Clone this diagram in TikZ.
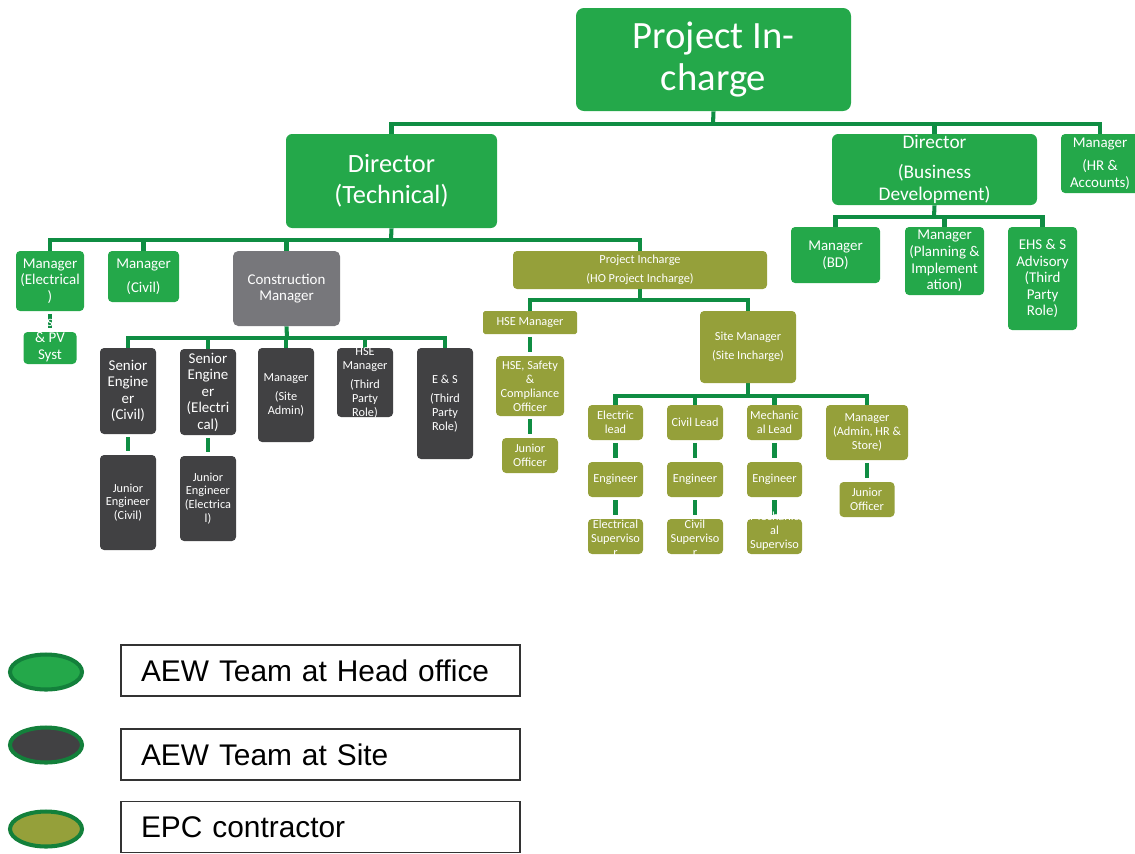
\documentclass[tikz,border=0pt]{standalone}
\usepackage{fontspec}
\setmainfont{Carlito}
\newfontfamily\arialfont{Liberation Sans}
\usetikzlibrary{shapes.geometric,backgrounds}

\definecolor{hogreen}{HTML}{24A84A}
\definecolor{sitegray}{HTML}{414143}
\definecolor{cmgray}{HTML}{77777B}
\definecolor{epcolive}{HTML}{95A03A}
\definecolor{wiregreen}{HTML}{0F8D43}
\definecolor{swatchedge}{HTML}{13803B}

\newcommand\szTop{\fontsize{22}{24.4}\selectfont}
\newcommand\szDir{\fontsize{15}{17.6}\selectfont}
\newcommand\szBD{\fontsize{11}{13}\selectfont}
\newcommand\szSmall{\fontsize{8.5}{9.4}\selectfont}
\newcommand\szTiny{\fontsize{7}{7.9}\selectfont}
\newcommand\szKey{\arialfont\fontsize{17}{20}\selectfont}

\tikzset{
  sz/.style 2 args={minimum width=#1*0.02cm, minimum height=#2*0.02cm},
  orgbox/.style={inner sep=0pt, align=center, text=white, rounded corners=2.3pt},
  orgtext/.style={inner sep=0pt, align=center, text=white},
  ho/.style={orgbox, fill=hogreen},
  site/.style={orgbox, fill=sitegray},
  epc/.style={orgbox, fill=epcolive},
  wire/.style={draw=wiregreen, line width=2.3pt},
  drop/.style={wire, shorten <=1.5pt, shorten >=2pt},
  swatch/.style={ellipse, draw=swatchedge, line width=2.3pt, inner sep=0pt, sz={72}{35}},
  keybox/.style={draw=black!80, line width=0.85pt, sz={399}{51}, text width=7.18cm,
    inner xsep=0.4cm, inner ysep=0pt, align=left, font=\szKey}
}

\begin{document}
\begin{tikzpicture}[x=0.02cm, y=-0.02cm]
\useasboundingbox (0,0) rectangle (1135,853);

% head office
\node[ho, sz={275}{103}, rounded corners=4.5pt, font=\szTop] (pic) at (713.5,59.5) {Project In-\\charge};
\node[ho, sz={211}{94}, rounded corners=3.5pt, font=\szDir] (dtech) at (391.5,181) {Director\\(Technical)};
\node[ho, sz={205}{71}, rounded corners=3.5pt, font=\szBD] (dbd) at (934.5,169.5) {Director\\[4pt](Business\\Development)};
\node[ho, sz={78}{59}, font=\szSmall] (mhr) at (1100,163.5) {Manager\\[4pt](HR \&\\Accounts)};

\node[ho, sz={68}{60}, font=\szSmall] (melec) at (50,281) {Manager\\(Electrical\\)};
\node[ho, sz={71}{51}, font=\szSmall] (mcivil) at (143.5,276.5) {Manager\\[4.5pt](Civil)};
\node[orgbox, fill=cmgray, sz={107}{75}, rounded corners=3pt, font=\szSmall] (cman) at (286.5,288.5) {Construction\\Manager};
\node[ho, sz={53}{32}, label={[orgtext, font=\szSmall, yshift=4.5pt]center:{s\\\& PV\\Syst}}] (pvs) at (50,348) {};

\node[ho, sz={89}{56}, font=\szSmall] (mbd) at (835.5,255) {Manager\\(BD)};
\node[ho, sz={79}{68}, font=\szSmall] (mplan) at (944.5,261) {Manager\\(Planning \&\\Implement\\ation)};
\node[ho, sz={69}{103}, font=\szSmall] (ehs) at (1042.5,278.5) {EHS \& S\\Advisory\\(Third\\Party\\Role)};

% site team
\node[site, sz={56}{86}, font=\szSmall] (secivil) at (128,391) {Senior\\Engine\\er\\(Civil)};
\node[site, sz={56}{86}, font=\szSmall] (seelec) at (208,392) {Senior\\Engine\\er\\(Electri\\cal)};
\node[site, sz={56}{94}, font=\szTiny] (msite) at (286,395) {Manager\\[3pt](Site\\Admin)};
\node[site, sz={56}{69}, label={[orgtext, font=\szTiny]center:{HSE\\Manager\\[3pt](Third\\Party\\Role)}}] (hsetp) at (365,382.5) {};
\node[site, sz={56}{111}, font=\szTiny] (es) at (445,403.5) {E \& S\\[3pt](Third\\Party\\Role)};
\node[site, sz={56}{95}, font=\szTiny] (jecivil) at (128,502.5) {Junior\\Engineer\\(Civil)};
\node[site, sz={56}{85}, font=\szTiny] (jeelec) at (208,498.5) {Junior\\Engineer\\(Electrica\\l)};

% epc contractor
\node[epc, sz={254}{38}, font=\szTiny] (pho) at (640,270) {Project Incharge\\[3pt](HO Project Incharge)};
\node[epc, sz={94}{23}, rounded corners=1pt, font=\szTiny] (hsem) at (530,322.5) {HSE Manager};
\node[epc, sz={96}{72}, font=\szTiny] (sitem) at (748,347) {Site Manager\\[3pt](Site Incharge)};
\node[epc, sz={68}{60}, font=\szTiny] (hsso) at (530,386) {HSE, Safety\\\&\\Compliance\\Officer};
\node[epc, sz={56}{35}, font=\szTiny] (jo1) at (530,455.5) {Junior\\Officer};
\node[epc, sz={55}{35}, font=\szTiny] (elead) at (615.5,422.5) {Electric\\lead};
\node[epc, sz={56}{35}, font=\szTiny] (clead) at (695,422.5) {Civil Lead};
\node[epc, sz={55}{35}, font=\szTiny] (mlead) at (774.5,422.5) {Mechanic\\al Lead};
\node[epc, sz={82}{55}, font=\szTiny] (madmin) at (867,432.5) {Manager\\(Admin, HR \&\\Store)};
\node[epc, sz={55}{35}, font=\szTiny] (eeng) at (615.5,479.5) {Engineer};
\node[epc, sz={56}{35}, font=\szTiny] (ceng) at (695,479.5) {Engineer};
\node[epc, sz={55}{35}, font=\szTiny] (meng) at (774.5,479.5) {Engineer};
\node[epc, sz={55}{35}, label={[orgtext, font=\szTiny, yshift=-0.8pt]center:{Electrical\\Superviso\\r}}] (esup) at (615.5,536.5) {};
\node[epc, sz={56}{35}, label={[orgtext, font=\szTiny, yshift=-0.8pt]center:{Civil\\Superviso\\r}}] (csup) at (695,536.5) {};
\node[epc, sz={55}{35}, label={[orgtext, font=\szTiny, yshift=-0.5pt]center:{Mechanic\\al\\Superviso\\r}}] (msup) at (774.5,536.5) {};
\node[epc, sz={55}{35}, font=\szTiny] (jo2) at (867,499.5) {Junior\\Officer};

% connectors
\begin{scope}[on background layer]
\coordinate (b0) at (713,124);
\draw[wire] (pic.south) -- (b0);
\draw[wire] (dtech.north) |- (b0) -| (mhr.north);
\draw[wire] (dbd.north) -- (dbd.north |- b0);

\coordinate (b1) at (391,240);
\draw[wire] (dtech.south) -- (b1);
\draw[wire] (melec.north) |- (b1) -| (pho.north);
\foreach \n in {mcivil,cman}
  \draw[wire] (\n.north) -- (\n.north |- b1);

\coordinate (b2) at (934,217);
\draw[wire] (dbd.south) -- (b2);
\draw[wire] (mbd.north) |- (b2) -| (ehs.north);
\draw[wire] (mplan.north) -- (mplan.north |- b2);

\coordinate (b3) at (287,338);
\draw[wire] (cman.south) -- (b3);
\draw[wire] (secivil.north) |- (b3) -| (es.north);
\foreach \n in {seelec,msite,hsetp}
  \draw[wire] (\n.north) -- (\n.north |- b3);

\coordinate (b4) at (640,300);
\draw[wire] (pho.south) -- (b4);
\draw[wire] (hsem.north) |- (b4) -| (sitem.north);

\coordinate (b5) at (748,396);
\draw[wire] (sitem.south) -- (b5);
\draw[wire] (elead.north) |- (b5) -| (madmin.north);
\foreach \n in {clead,mlead}
  \draw[wire] (\n.north) -- (\n.north |- b5);

\foreach \a/\b in {melec/pvs,secivil/jecivil,seelec/jeelec,hsem/hsso,hsso/jo1,
    elead/eeng,clead/ceng,mlead/meng,eeng/esup,ceng/csup,meng/msup,madmin/jo2}
  \draw[drop] (\a.south) -- (\b.north);
\end{scope}

% legend
\node[swatch, fill=hogreen] (kho) at (46,672) {};
\node[swatch, fill=sitegray] (ksite) at (46,745) {};
\node[swatch, fill=epcolive] (kepc) at (46,829) {};
\node[keybox] (tho) at (320.5,670.5) {AEW Team at Head office};
\node[keybox] (tsite) at (320.5,754.5) {AEW Team at Site};
\node[keybox] (tepc) at (320.5,827) {EPC contractor};
\end{tikzpicture}
\end{document}
